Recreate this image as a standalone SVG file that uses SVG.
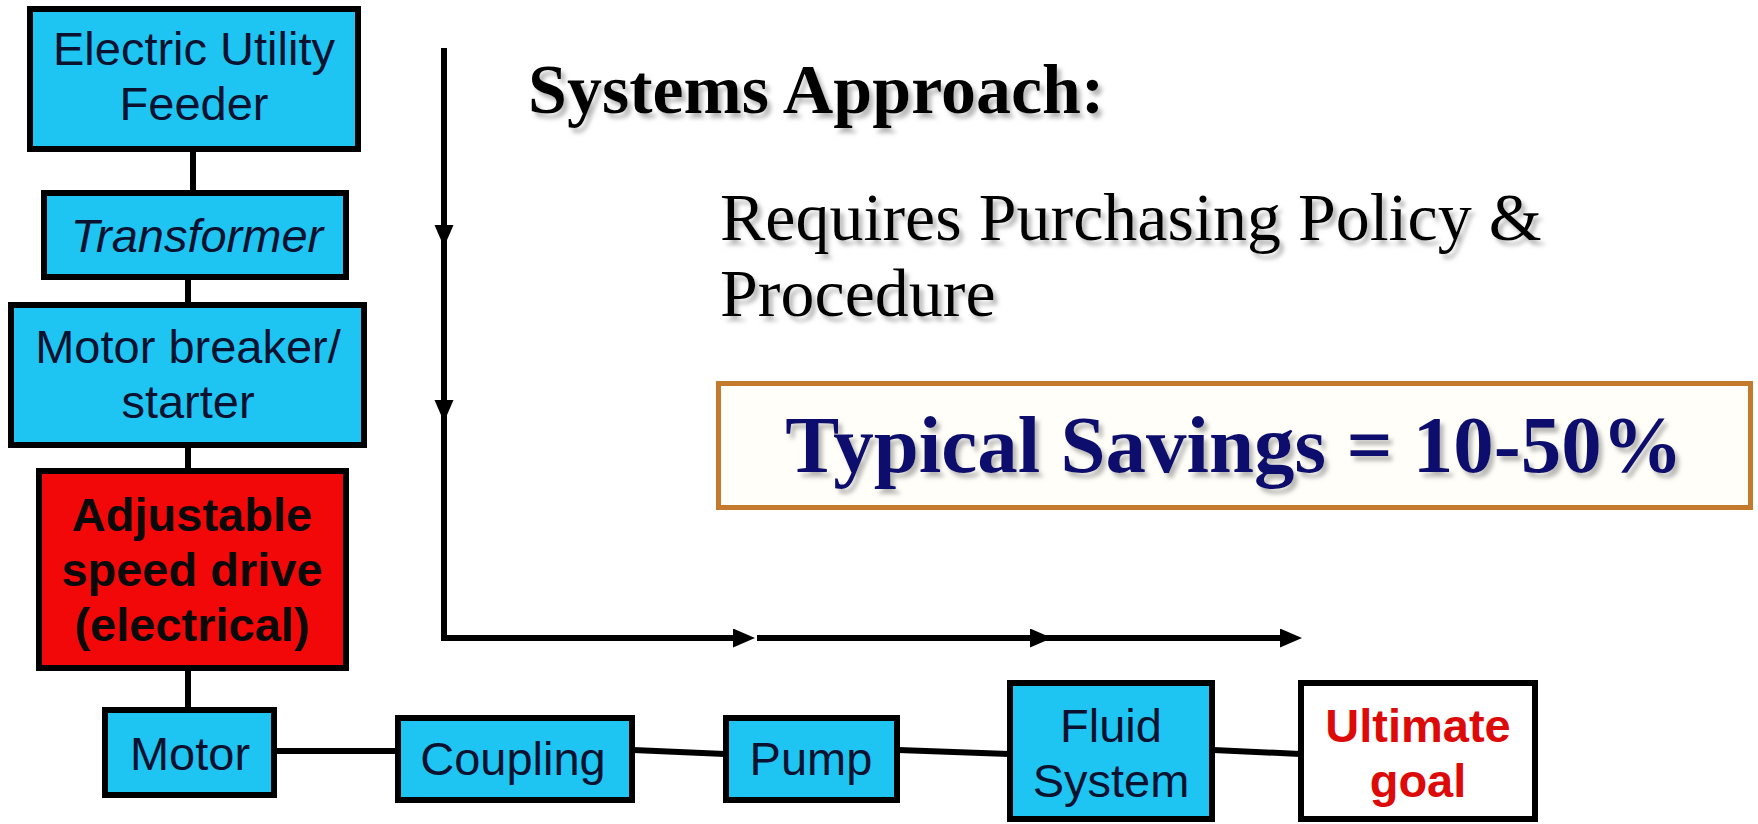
<svg xmlns="http://www.w3.org/2000/svg" width="1758" height="824" viewBox="0 0 1758 824">
<defs>
<style>
.box{fill:#1EC5F2;stroke:#000;stroke-width:6}
.red{fill:#F20808;stroke:#000;stroke-width:6}
.white{fill:#FFFFFF;stroke:#000;stroke-width:6}
.lbl{font-family:"Liberation Sans",Arial,sans-serif;font-size:47px;fill:#0B1230;text-anchor:middle}
.bold{font-weight:bold;fill:#0A0A0A}
.goal{font-weight:bold;fill:#DD0A0A}
.conn{stroke:#000;stroke-width:6;fill:none}
.flow{stroke:#000;stroke-width:6;fill:none;marker-end:url(#ah)}
.serif{font-family:"Liberation Serif","Times New Roman",serif;fill:#000}
</style>
<marker id="ah" markerUnits="userSpaceOnUse" markerWidth="24" markerHeight="20" refX="10" refY="9.5" orient="auto">
<path d="M0,0 L22,9.5 L0,19 Z" fill="#000"/>
</marker>
<filter id="sh" x="-5%" y="-20%" width="110%" height="150%">
<feDropShadow dx="4" dy="5" stdDeviation="2" flood-color="#8a8a8a" flood-opacity="0.6"/>
</filter>
</defs>
<rect width="1758" height="824" fill="#FFFFFF"/>

<g id="connectors">
<line class="conn" x1="193" y1="150" x2="193" y2="192"/>
<line class="conn" x1="188" y1="278" x2="188" y2="304"/>
<line class="conn" x1="188" y1="446" x2="188" y2="470"/>
<line class="conn" x1="188" y1="669" x2="188" y2="709"/>
<line class="conn" x1="275" y1="751" x2="397" y2="751"/>
<line class="conn" x1="633" y1="750" x2="725" y2="754"/>
<line class="conn" x1="898" y1="750" x2="1009" y2="754"/>
<line class="conn" x1="1213" y1="750" x2="1300" y2="754"/>
<path class="flow" d="M444,48 V235"/>
<path class="flow" d="M444,235 V410"/>
<path class="flow" d="M444,410 V638 H743"/>
<path class="flow" d="M757,638 H1040"/>
<path class="flow" d="M1040,638 H1290"/>
</g>

<g id="n-feeder">
<rect class="box" x="30" y="9" width="328" height="140"/>
<text class="lbl" x="194" y="65" font-size="48">Electric Utility</text>
<text class="lbl" x="194" y="120" font-size="48">Feeder</text>
</g>
<g id="n-transformer">
<rect class="box" x="44" y="193" width="302" height="84"/>
<text class="lbl" x="197" y="252" font-style="italic">Transformer</text>
</g>
<g id="n-breaker">
<rect class="box" x="11" y="305" width="353" height="140"/>
<text class="lbl" x="188" y="363">Motor breaker/</text>
<text class="lbl" x="188" y="418">starter</text>
</g>
<g id="n-asd">
<rect class="red" x="39" y="471" width="307" height="197"/>
<text class="lbl bold" x="192" y="531">Adjustable</text>
<text class="lbl bold" x="192" y="586">speed drive</text>
<text class="lbl bold" x="192" y="641">(electrical)</text>
</g>
<g id="n-motor">
<rect class="box" x="105" y="710" width="169" height="85"/>
<text class="lbl" x="190" y="770">Motor</text>
</g>
<g id="n-coupling">
<rect class="box" x="398" y="718" width="234" height="82"/>
<text class="lbl" x="513" y="775">Coupling</text>
</g>
<g id="n-pump">
<rect class="box" x="726" y="718" width="171" height="82"/>
<text class="lbl" x="811" y="775">Pump</text>
</g>
<g id="n-fluid">
<rect class="box" x="1010" y="683" width="202" height="136"/>
<text class="lbl" x="1111" y="742">Fluid</text>
<text class="lbl" x="1111" y="797">System</text>
</g>
<g id="n-goal">
<rect class="white" x="1301" y="683" width="234" height="136"/>
<text class="lbl goal" x="1418" y="742">Ultimate</text>
<text class="lbl goal" x="1418" y="797">goal</text>
</g>

<g id="title">
<text class="serif" x="528" y="113" font-size="70" font-weight="bold" filter="url(#sh)">Systems Approach:</text>
</g>
<g id="requires">
<text class="serif" x="720" y="240" font-size="68" filter="url(#sh)">Requires Purchasing Policy &amp;</text>
<text class="serif" x="720" y="316" font-size="68" filter="url(#sh)">Procedure</text>
</g>
<g id="savings">
<rect x="718.5" y="383.5" width="1032" height="124" fill="#FFFEF8" stroke="#C47A2C" stroke-width="5"/>
<text x="1234" y="472" font-family="Liberation Serif,'Times New Roman',serif" font-size="81" font-weight="bold" fill="#0C0C6E" text-anchor="middle" filter="url(#sh)">Typical Savings = 10-50%</text>
</g>
</svg>
